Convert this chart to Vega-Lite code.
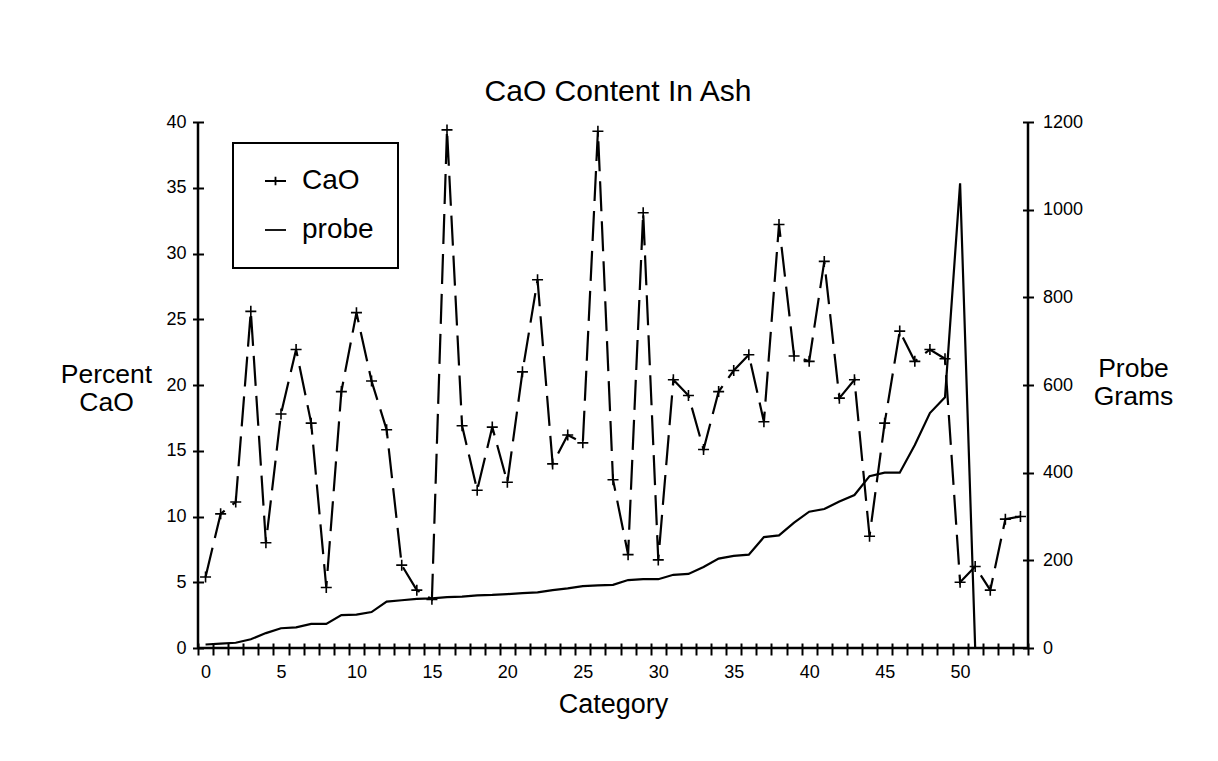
{
  "$schema": "https://vega.github.io/schema/vega-lite/v6.json",
  "width": 830,
  "height": 526,
  "autosize": {"type": "none"},
  "padding": {"left": 198, "top": 122, "right": 190, "bottom": 113},
  "background": "white",
  "config": {
    "font": "Liberation Sans",
    "view": {"stroke": null},
    "axis": {"labelColor": "black", "titleColor": "black", "tickColor": "black", "titleFontWeight": "normal", "grid": false}
  },
  "title": {"text": "CaO Content In Ash", "fontSize": 30, "fontWeight": "normal", "anchor": "middle", "baseline": "alphabetic", "offset": -18, "dx": 5, "color": "black", "font": "Liberation Sans"},
  "data": {"values": [
    {"Category": 0, "CaO": 5.4, "probe": 8},
    {"Category": 1, "CaO": 10.2, "probe": 10},
    {"Category": 2, "CaO": 11.1, "probe": 12},
    {"Category": 3, "CaO": 25.6, "probe": 20},
    {"Category": 4, "CaO": 8.0, "probe": 34},
    {"Category": 5, "CaO": 17.8, "probe": 45},
    {"Category": 6, "CaO": 22.7, "probe": 47},
    {"Category": 7, "CaO": 17.1, "probe": 55},
    {"Category": 8, "CaO": 4.6, "probe": 55},
    {"Category": 9, "CaO": 19.5, "probe": 75},
    {"Category": 10, "CaO": 25.5, "probe": 76},
    {"Category": 11, "CaO": 20.3, "probe": 82},
    {"Category": 12, "CaO": 16.6, "probe": 106},
    {"Category": 13, "CaO": 6.3, "probe": 109},
    {"Category": 14, "CaO": 4.4, "probe": 112},
    {"Category": 15, "CaO": 3.7, "probe": 113},
    {"Category": 16, "CaO": 39.4, "probe": 116},
    {"Category": 17, "CaO": 16.9, "probe": 117},
    {"Category": 18, "CaO": 12.0, "probe": 120},
    {"Category": 19, "CaO": 16.8, "probe": 121},
    {"Category": 20, "CaO": 12.6, "probe": 123},
    {"Category": 21, "CaO": 21.0, "probe": 125},
    {"Category": 22, "CaO": 28.0, "probe": 127},
    {"Category": 23, "CaO": 14.0, "probe": 132},
    {"Category": 24, "CaO": 16.2, "probe": 136},
    {"Category": 25, "CaO": 15.6, "probe": 141},
    {"Category": 26, "CaO": 39.3, "probe": 143},
    {"Category": 27, "CaO": 12.8, "probe": 144},
    {"Category": 28, "CaO": 7.1, "probe": 155},
    {"Category": 29, "CaO": 33.1, "probe": 157},
    {"Category": 30, "CaO": 6.7, "probe": 157},
    {"Category": 31, "CaO": 20.4, "probe": 167},
    {"Category": 32, "CaO": 19.2, "probe": 169},
    {"Category": 33, "CaO": 15.1, "probe": 185},
    {"Category": 34, "CaO": 19.5, "probe": 204},
    {"Category": 35, "CaO": 21.1, "probe": 210},
    {"Category": 36, "CaO": 22.3, "probe": 213},
    {"Category": 37, "CaO": 17.2, "probe": 253},
    {"Category": 38, "CaO": 32.2, "probe": 257},
    {"Category": 39, "CaO": 22.2, "probe": 286},
    {"Category": 40, "CaO": 21.8, "probe": 311},
    {"Category": 41, "CaO": 29.4, "probe": 317},
    {"Category": 42, "CaO": 19.0, "probe": 334},
    {"Category": 43, "CaO": 20.4, "probe": 349},
    {"Category": 44, "CaO": 8.5, "probe": 392},
    {"Category": 45, "CaO": 17.1, "probe": 400},
    {"Category": 46, "CaO": 24.1, "probe": 400},
    {"Category": 47, "CaO": 21.8, "probe": 463},
    {"Category": 48, "CaO": 22.7, "probe": 536},
    {"Category": 49, "CaO": 22.0, "probe": 572},
    {"Category": 50, "CaO": 5.0, "probe": 1060},
    {"Category": 51, "CaO": 6.2, "probe": 0},
    {"Category": 52, "CaO": 4.4, "probe": null},
    {"Category": 53, "CaO": 9.8, "probe": null},
    {"Category": 54, "CaO": 10.0, "probe": null}
  ]},
  "layer": [
    {
      "layer": [
        {
          "mark": {"type": "line", "strokeDash": [30, 10], "strokeWidth": 2.2},
          "encoding": {
            "x": {
              "field": "Category", "type": "quantitative",
              "scale": {"domain": [-0.5, 54.5], "nice": false, "zero": false},
              "axis": {
                "values": [-0.5, 0.5, 1.5, 2.5, 3.5, 4.5, 5.5, 6.5, 7.5, 8.5, 9.5, 10.5, 11.5, 12.5, 13.5, 14.5, 15.5, 16.5, 17.5, 18.5, 19.5, 20.5, 21.5, 22.5, 23.5, 24.5, 25.5, 26.5, 27.5, 28.5, 29.5, 30.5, 31.5, 32.5, 33.5, 34.5, 35.5, 36.5, 37.5, 38.5, 39.5, 40.5, 41.5, 42.5, 43.5, 44.5, 45.5, 46.5, 47.5, 48.5, 49.5, 50.5, 51.5, 52.5, 53.5, 54.5],
                "tickCount": 200,
                "labelExpr": "(datum.value < 54 && (datum.value + 0.5) % 5 === 0) ? '' + (datum.value + 0.5) : ''",
                "labelOffset": 7.55, "labelFlush": false, "labelOverlap": false, "labelBound": false,
                "tickSize": 12, "tickWidth": 2, "offset": -5, "domain": false,
                "labelFontSize": 18, "labelPadding": 8,
                "title": "Category", "titleFontSize": 27, "titleX": 415, "titleY": 69.7,
                "titleBaseline": "alphabetic", "titleAlign": "center"
              }
            },
            "y": {
              "field": "CaO", "type": "quantitative",
              "scale": {"domain": [0, 40], "nice": false},
              "axis": {
                "values": [0, 5, 10, 15, 20, 25, 30, 35, 40],
                "tickSize": 11, "tickWidth": 2, "offset": -5.5, "domain": false,
                "labelFontSize": 18, "labelPadding": 6.5,
                "title": ["Percent", "CaO"], "titleFontSize": 26.5, "titleAngle": 0,
                "titleAlign": "center", "titleBaseline": "alphabetic",
                "titleX": -97.5, "titleY": 260.7, "titleLineHeight": 28
              }
            },
            "color": {
              "datum": "CaO",
              "scale": {"domain": ["CaO", "probe"], "range": ["black", "black"]},
              "legend": {
                "title": null, "orient": "none", "legendX": 35, "legendY": 21, "direction": "vertical",
                "strokeColor": "black", "padding": 24, "fillColor": "white",
                "labelFontSize": 28, "labelFont": "Liberation Sans", "labelColor": "black",
                "symbolSize": 441, "symbolOffset": 4.5, "labelOffset": 12.5, "rowPadding": 21,
                "symbolStrokeWidth": 1.8, "symbolStrokeColor": "black", "symbolFillColor": "transparent",
                "encode": {
                  "legend": {"update": {"strokeWidth": {"value": 2}}},
                  "symbols": {
                    "update": {
                      "shape": {"signal": "datum.value === 'CaO' ? 'M-1,0H1M0,-0.4V0.4' : 'M-1,0H1'"},
                      "stroke": {"value": "black"},
                      "fill": {"value": "transparent"}
                    }
                  }
                }
              }
            }
          }
        },
        {
          "mark": {"type": "point", "shape": "M-1,0H1M0,-1V1", "filled": false, "size": 121, "strokeWidth": 1.6, "opacity": 1},
          "encoding": {
            "x": {"field": "Category", "type": "quantitative"},
            "y": {"field": "CaO", "type": "quantitative"},
            "color": {"datum": "CaO"}
          }
        },
        {
          "data": {"values": [{}]},
          "mark": {"type": "rule", "color": "black", "strokeWidth": 2.5},
          "encoding": {"x": {"datum": -0.5}}
        },
        {
          "data": {"values": [{}]},
          "mark": {"type": "rule", "color": "black", "strokeWidth": 2.5},
          "encoding": {"x": {"datum": 54.5}}
        },
        {
          "data": {"values": [{}]},
          "mark": {"type": "rule", "color": "black", "strokeWidth": 2.5},
          "encoding": {"y": {"datum": 0}}
        }
      ]
    },
    {
      "mark": {"type": "line", "strokeWidth": 2.2},
      "encoding": {
        "x": {"field": "Category", "type": "quantitative"},
        "y": {
          "field": "probe", "type": "quantitative",
          "scale": {"domain": [0, 1200], "nice": false},
          "axis": {
            "orient": "right",
            "values": [0, 200, 400, 600, 800, 1000, 1200],
            "format": "d",
            "tickSize": 11, "tickWidth": 2, "offset": -5.5, "domain": false,
            "labelFontSize": 18, "labelPadding": 9,
            "title": ["Probe", "Grams"], "titleFontSize": 26.5, "titleAngle": 0,
            "titleAlign": "center", "titleBaseline": "alphabetic",
            "titleX": 110.5, "titleY": 254, "titleLineHeight": 28
          }
        },
        "color": {"datum": "probe"}
      }
    }
  ],
  "resolve": {"scale": {"y": "independent"}}
}
